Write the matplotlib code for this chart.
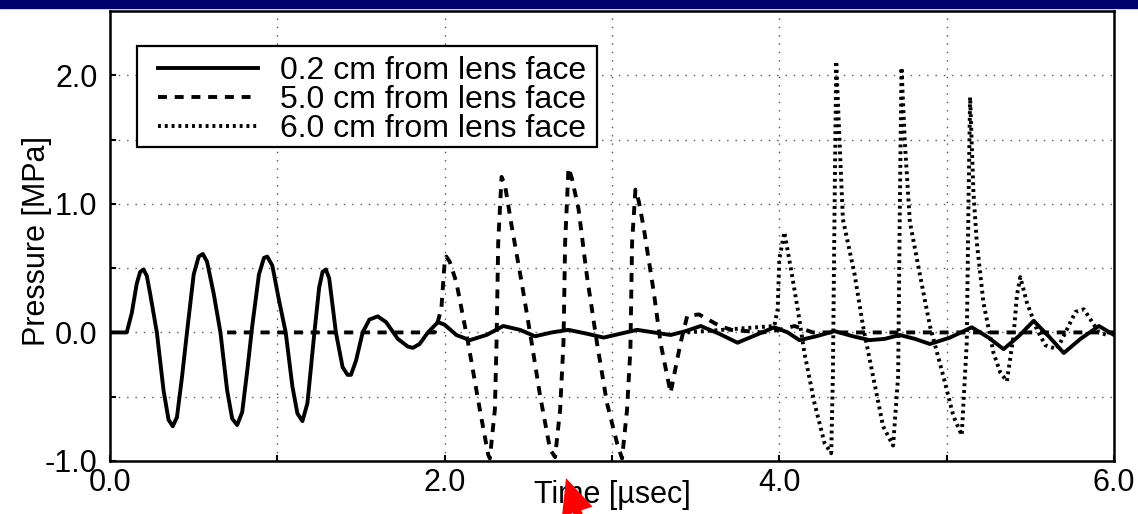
import matplotlib.pyplot as plt
from matplotlib.patches import Rectangle, FancyArrowPatch
from matplotlib.transforms import IdentityTransform

plt.rcParams['font.family'] = ['Liberation Sans', 'DejaVu Sans']

# 0.2 cm from lens face
t_02 = [0.00, 0.10, 0.13, 0.16, 0.18, 0.20, 0.22, 0.24, 0.28, 0.32, 0.35, 0.375, 0.40, 0.43, 0.46,
        0.50, 0.53, 0.555, 0.58, 0.62, 0.66, 0.70, 0.73, 0.76, 0.79, 0.82, 0.85, 0.89,
        0.92, 0.94, 0.97, 1.01, 1.05, 1.09, 1.12, 1.15, 1.18, 1.22, 1.25, 1.27, 1.29,
        1.31, 1.35, 1.39, 1.42, 1.44, 1.47, 1.51, 1.55, 1.60, 1.65, 1.72, 1.78, 1.81,
        1.85, 1.90, 1.96, 2.00, 2.07, 2.15, 2.25, 2.35, 2.45, 2.54, 2.64, 2.74, 2.85,
        2.95, 3.05, 3.15, 3.25, 3.35, 3.44, 3.53, 3.64, 3.75, 3.86, 3.97, 4.05, 4.12,
        4.22, 4.33, 4.44, 4.54, 4.63, 4.72, 4.81, 4.90, 5.02, 5.15, 5.25, 5.34, 5.43,
        5.52, 5.61, 5.70, 5.80, 5.91, 6.00]
p_02 = [0.0, 0.0, 0.15, 0.38, 0.47, 0.49, 0.44, 0.30, 0.0, -0.45, -0.68, -0.73, -0.66, -0.35, 0.0,
        0.45, 0.59, 0.61, 0.55, 0.30, 0.0, -0.45, -0.67, -0.72, -0.62, -0.30, 0.05, 0.45,
        0.58, 0.59, 0.52, 0.25, 0.0, -0.42, -0.63, -0.69, -0.55, -0.02, 0.35, 0.47, 0.49,
        0.42, 0.0, -0.27, -0.33, -0.33, -0.22, 0.0, 0.10, 0.125, 0.08, -0.05, -0.11, -0.12,
        -0.09, 0.0, 0.08, 0.06, -0.02, -0.06, -0.02, 0.05, 0.02, -0.03, 0.0, 0.02, -0.01,
        -0.04, -0.01, 0.02, 0.0, -0.02, 0.01, 0.05, -0.01, -0.08, -0.02, 0.04, 0.0, -0.06,
        -0.03, 0.01, -0.03, -0.06, -0.05, -0.02, -0.05, -0.09, -0.04, 0.04, -0.04, -0.13, -0.03,
        0.09, -0.03, -0.16, -0.05, 0.05, -0.02]

# 5.0 cm from lens face
t_50 = [0.70, 1.94, 1.98, 2.00, 2.01, 2.03, 2.07, 2.14, 2.21, 2.26, 2.27, 2.30, 2.31,
        2.32, 2.34, 2.36, 2.40, 2.46, 2.52, 2.57, 2.63, 2.66, 2.69, 2.71, 2.72, 2.74,
        2.76, 2.80, 2.85, 2.91, 2.97, 3.03, 3.06, 3.09, 3.11, 3.12, 3.14, 3.16, 3.19,
        3.25, 3.29, 3.35, 3.41, 3.45, 3.52, 3.63, 3.71, 3.90, 4.00, 4.09, 4.20, 6.00]
p_50 = [0.0, 0.0, 0.18, 0.55, 0.59, 0.55, 0.39, -0.08, -0.60, -0.95, -0.98, -0.60, -0.08,
        0.70, 1.21, 1.15, 0.83, 0.39, -0.08, -0.49, -0.91, -0.97, -0.60, -0.08, 0.70, 1.28,
        1.20, 0.96, 0.44, -0.08, -0.55, -0.86, -0.98, -0.60, -0.13, 0.70, 1.11, 1.02, 0.81,
        0.31, -0.08, -0.47, -0.08, 0.13, 0.14, 0.06, 0.02, 0.0, 0.02, 0.05, 0.0, 0.0]

# 6.0 cm from lens face
t_60 = [3.45, 3.97, 3.99, 4.00, 4.03, 4.07, 4.11, 4.15, 4.21, 4.27, 4.31, 4.32, 4.33,
        4.34, 4.36, 4.38, 4.45, 4.50, 4.56, 4.62, 4.68, 4.71, 4.72, 4.73, 4.75, 4.78,
        4.84, 4.90, 4.98, 5.04, 5.09, 5.12, 5.13, 5.14, 5.16, 5.18, 5.22, 5.28, 5.32,
        5.36, 5.40, 5.42, 5.44, 5.48, 5.54, 5.59, 5.66, 5.71, 5.77, 5.82, 5.86, 5.91,
        5.96, 6.00]
p_60 = [0.0, 0.05, 0.18, 0.57, 0.78, 0.49, 0.18, -0.16, -0.55, -0.86, -0.94, -0.34, 0.96,
        2.11, 1.48, 0.88, 0.45, 0.05, -0.34, -0.73, -0.88, -0.34, 0.96, 2.06, 1.48, 0.86,
        0.45, 0.05, -0.34, -0.65, -0.80, -0.08, 0.96, 1.83, 1.09, 0.70, 0.23, -0.16, -0.31,
        -0.38, -0.02, 0.29, 0.43, 0.23, 0.02, -0.10, -0.13, 0.0, 0.16, 0.18, 0.10, 0.0,
        -0.02, 0.02]

labels = ['0.2 cm from lens face', '5.0 cm from lens face', '6.0 cm from lens face']
xticks = [0.0, 2.0, 4.0, 6.0]
yticks = [-1.0, 0.0, 1.0, 2.0]

fig = plt.figure(figsize=(11.38, 5.14), dpi=100)
ax = fig.add_axes([110 / 1138, 1 - 461 / 514, 1004 / 1138, 450 / 514])

ax.plot(t_02, p_02, color='black', lw=2.8, ls='-', label=labels[0])
ax.plot(t_50, p_50, color='black', lw=2.8, ls=(0, (2.3, 2.0)), label=labels[1])
ax.plot(t_60, p_60, color='black', lw=2.8, ls=(0, (0.75, 1.0)), label=labels[2])

ax.set_xlim(0, 6)
ax.set_ylim(-1.0, 2.5)
ax.set_xticks(xticks)
ax.set_xticklabels([f'{v:.1f}' for v in xticks])
ax.set_yticks(yticks)
ax.set_yticklabels([f'{v:.1f}' for v in yticks])
ax.set_xticks([1, 3, 5], minor=True)
ax.set_yticks([-0.5, 0.5, 1.5], minor=True)
ax.grid(True, which='both', color='#555555', lw=1.0, ls=(0, (1, 5)))
ax.tick_params(which='both', direction='in', length=4, width=1.5, labelsize=22)
ax.tick_params(axis='y', pad=9)
ax.tick_params(axis='x', pad=5)
for s in ax.spines.values():
    s.set_linewidth(1.8)

ax.set_xlabel('Time [µsec]', fontsize=22)
ax.xaxis.set_label_coords(0.5, -0.043)
ax.set_ylabel('Pressure [MPa]', fontsize=22)
ax.yaxis.set_label_coords(-0.058, 0.49)

# legend box drawn as its own frame, entries placed inside it
ax.add_patch(Rectangle((27 / 1004, 314 / 450), 460 / 1004, 101 / 450,
                       transform=ax.transAxes, fill=True, facecolor='white',
                       edgecolor='black', lw=1.6, zorder=4, clip_on=False))
leg = ax.legend(loc='upper left', bbox_to_anchor=(48 / 1004, 405 / 450), borderaxespad=0,
                fontsize=23, labelspacing=-0.03, handlelength=3.13, handletextpad=0.69,
                borderpad=0, frameon=False)
leg.set_zorder(5)

# navy band at the top and the red pointer arrow (figure pixels, origin bottom-left)
fig.patches.append(Rectangle((0, 506 / 514), 1, 8 / 514, transform=fig.transFigure,
                             color='#00006e', zorder=5))
arrow = FancyArrowPatch((580, -6), (566, 36), transform=IdentityTransform(),
                        arrowstyle='simple,head_length=1.6,head_width=1.45,tail_width=0.4',
                        mutation_scale=16, color='red', lw=0, shrinkA=0, shrinkB=0,
                        zorder=10)
fig.patches.append(arrow)

fig.savefig('out.png', dpi=100)
